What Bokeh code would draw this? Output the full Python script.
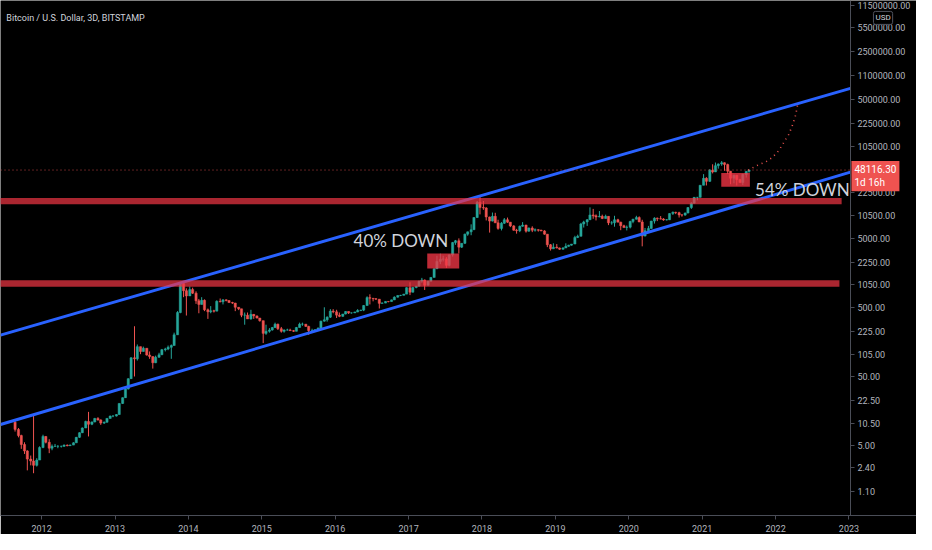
import pandas as pd
from bokeh.plotting import figure
from bokeh.models import (Range1d, FixedTicker, CustomJSTickFormatter, Label, ColumnDataSource)
from bokeh.embed import file_html
from bokeh.resources import INLINE

# ---------------- data (semi-monthly candles, BTC/USD) ----------------
first_date = "2011-08-15"
first_open = 10.9
highs = [
    # 2011 (Aug H2 .. Dec)
    11.6, 9.0, 7.2, 5.6, 4.3, 3.6, 14.3, 3.3, 4.9,
    # 2012
    7.2, 6.9, 6.2, 5.2, 5.3, 5.1, 5.0, 5.2, 5.2, 5.2, 5.6, 6.7, 7.8, 9.2, 11.5, 15.4, 11.2, 12.6, 12.9, 12.0, 11.2, 12.5, 13.6, 13.8,
    # 2013
    14.3, 20.5, 25.0, 33.5, 47.0, 95.0, 266, 145, 125, 135, 125, 115, 96, 100, 110, 125, 130, 140, 145, 215, 440, 1160, 1160, 940,
    # 2014
    1000, 960, 850, 660, 700, 650, 480, 520, 460, 630, 670, 650, 650, 630, 600, 580, 500, 475, 420, 420, 460, 400, 380, 340,
    # 2015
    320, 280, 250, 260, 300, 290, 260, 240, 245, 245, 235, 260, 300, 300, 285, 270, 245, 240, 255, 320, 500, 370, 470, 470,
    # 2016
    460, 420, 400, 440, 430, 420, 430, 470, 460, 540, 720, 770, 680, 680, 630, 590, 610, 610, 645, 720, 745, 755, 780, 975,
    # 2017
    1150, 985, 1020, 1210, 1330, 1260, 1210, 1360, 1830, 2780, 2980, 2780, 2650, 2900, 4400, 4700, 4950, 4200, 5800, 6200, 7900, 10000, 17200, 19700,
    # 2018
    17200, 14000, 10200, 11700, 11600, 9200, 8500, 9750, 9900, 8500, 7700, 6800, 7600, 8500, 7800, 7100, 7400, 6900, 6700, 6600, 6500, 5700, 4100, 4200,
    # 2019
    4100, 3650, 3700, 4200, 4000, 4100, 5400, 5600, 8300, 8900, 9400, 13900, 13200, 11000, 12300, 10900, 10900, 10300, 8800, 10500, 9500, 8600, 7800, 7600,
    # 2020
    8900, 9500, 10500, 10300, 9200, 7000, 7500, 8900, 10000, 9900, 10400, 9700, 9400, 11400, 12100, 12000, 12000, 11100, 11700, 14000, 16500, 19600, 19600, 29000,
    # 2021 (Jan .. Aug H2)
    42000, 38000, 49700, 58300, 61800, 60000, 64900, 62000, 59500, 45000, 41300, 41000, 36000, 42600, 46600, 48500,
]
lows = [
    8.0, 6.6, 4.5, 3.8, 2.2, 2.6, 2.0, 2.5, 3.1,
    4.6, 5.4, 3.9, 4.3, 4.8, 4.6, 4.7, 4.8, 4.9, 5.0, 5.1, 5.5, 6.5, 7.6, 9.0, 6.8, 9.9, 10.9, 11.5, 10.0, 10.3, 10.8, 12.4, 12.9,
    13.2, 14.0, 20.0, 24.5, 32.5, 46.0, 50, 85, 105, 115, 100, 90, 65, 78, 93, 102, 115, 120, 90, 140, 200, 410, 700, 380,
    730, 780, 560, 410, 550, 440, 340, 410, 420, 440, 590, 550, 610, 580, 560, 440, 455, 360, 280, 340, 330, 340, 345, 310,
    152, 200, 215, 230, 250, 235, 215, 215, 230, 230, 220, 225, 255, 270, 260, 200, 225, 225, 235, 250, 310, 310, 350, 410,
    350, 360, 365, 395, 400, 405, 415, 425, 440, 440, 530, 550, 610, 640, 480, 565, 575, 590, 605, 635, 690, 725, 745, 775,
    750, 820, 940, 1000, 1130, 890, 1040, 1180, 1350, 1800, 2100, 2300, 1850, 1950, 2700, 4000, 3000, 3600, 4100, 5400, 5500, 6600, 9800, 11000,
    12800, 9000, 6000, 8700, 8300, 6600, 6450, 8000, 8300, 7200, 6400, 5800, 6100, 7300, 6000, 6200, 6100, 6200, 6200, 6300, 5600, 3700, 3300, 3500,
    3550, 3380, 3400, 3600, 3750, 3900, 4100, 5000, 5300, 7100, 7500, 9200, 9500, 9000, 10000, 9400, 9600, 7700, 7800, 7300, 8500, 6500, 7100, 6450,
    6900, 8200, 9300, 8500, 3800, 5300, 6200, 6800, 8100, 8800, 9300, 8900, 9000, 9100, 10800, 11100, 9900, 10200, 10500, 11400, 13200, 15900, 17600, 19300,
    29000, 28800, 32300, 43000, 45000, 50400, 55500, 47000, 42000, 30000, 31000, 28800, 31500, 29300, 37500, 43900,
]
closes = [
    8.6, 7.0, 5.2, 4.2, 3.2, 3.0, 2.6, 3.1, 4.7,
    6.8, 5.6, 4.6, 4.9, 4.9, 4.9, 4.9, 5.1, 5.0, 5.1, 5.5, 6.6, 7.7, 9.0, 11.2, 10.2, 11.0, 12.4, 11.8, 10.6, 10.9, 12.4, 13.4, 13.4,
    14.1, 20.4, 24.7, 33.0, 46.5, 93.0, 90, 135, 115, 128, 102, 97, 79, 95, 103, 122, 125, 132, 140, 200, 420, 1100, 870, 730,
    900, 800, 620, 550, 630, 460, 430, 445, 440, 610, 600, 640, 625, 585, 575, 500, 475, 385, 385, 340, 395, 375, 350, 320,
    210, 225, 235, 255, 285, 245, 225, 235, 235, 230, 225, 255, 285, 285, 265, 230, 230, 237, 250, 315, 330, 360, 440, 430,
    385, 370, 400, 435, 415, 415, 428, 450, 455, 530, 690, 675, 665, 655, 570, 575, 608, 605, 640, 700, 740, 745, 775, 960,
    825, 965, 1010, 1190, 1240, 1040, 1190, 1350, 1800, 2300, 2480, 2500, 2020, 2860, 4300, 4580, 3700, 4200, 5700, 6150, 6600, 9900, 16500, 13800,
    13600, 10100, 8800, 10300, 8300, 6900, 8200, 9200, 8500, 7500, 6500, 6400, 7400, 7700, 6300, 7000, 6500, 6600, 6500, 6350, 5700, 4000, 3500, 3700,
    3600, 3450, 3600, 3800, 3950, 4100, 5100, 5300, 8000, 8550, 9200, 10800, 10500, 10100, 10300, 9600, 10300, 8300, 8300, 9200, 8500, 7550, 7100, 7200,
    8700, 9350, 9900, 8550, 5350, 6400, 6900, 8800, 9700, 9500, 9450, 9150, 9200, 11300, 11800, 11650, 10800, 10750, 11500, 13800, 16000, 19400, 19400, 29000,
    36500, 33000, 47900, 45200, 55600, 58800, 61300, 57700, 46400, 36700, 40300, 35000, 31800, 41500, 46000, 48116.3,
]

# chart time window (decimal years) and price axis position
x_start, x_axis_at, x_end = 2011.44, 2023.02, 2023.92
y_low, y_high = 0.49, 1.356e7

# channel lines (decimal year, price)
channel_x = [2011.44, 2023.02]
upper_y = [198, 729000]
lower_y = [10.1, 44800]
# horizontal resistance/support bands
band_left = [2011.0, 2011.0]
band_right = [2022.9, 2022.87]
band_bottom = [15400, 987]
band_top = [19000, 1234]
# drawdown boxes
box_left = [2017.254, 2021.26]
box_right = [2017.69, 2021.65]
box_bottom = [1814, 27600]
box_top = [3000, 43600]
# projected path (dotted)
proj_x = [2021.626, 2021.689, 2021.777, 2021.866, 2021.956, 2022.044, 2022.111, 2022.178, 2022.223, 2022.267, 2022.290, 2022.303]
proj_y = [47900, 52000, 57900, 63100, 73200, 91600, 120000, 156500, 204000, 281000, 368000, 441000]
last_price = 48116.3

x_ticks = [2012, 2013, 2014, 2015, 2016, 2017, 2018, 2019, 2020, 2021, 2022, 2023]
y_ticks = [1.1, 2.4, 5.0, 10.5, 22.5, 50.0, 105.0, 225.0, 500.0, 1050.0, 2250.0, 5000.0, 10500.0,
           22500.0, 105000.0, 225000.0, 500000.0, 1100000.0, 2500000.0, 5500000.0, 11500000.0]

# ---------------- build candles ----------------
n = len(closes)
assert len(highs) == n and len(lows) == n
dates = pd.date_range(first_date, periods=n, freq="SMS") + pd.Timedelta(days=7)
t = [d.year + (d.dayofyear - 1) / (366 if d.is_leap_year else 365) for d in dates]
opens = [first_open] + closes[:-1]
up_c, dn_c = "#26a69a", "#ef5350"
colors = [up_c if c >= o else dn_c for o, c in zip(opens, closes)]
src = ColumnDataSource(dict(
    t=t,
    hi=[max(h, o, c) for h, o, c in zip(highs, opens, closes)],
    lo=[min(l, o, c) for l, o, c in zip(lows, opens, closes)],
    top=[max(o, c) for o, c in zip(opens, closes)],
    bot=[min(o, c) for o, c in zip(opens, closes)],
    col=colors,
))

p = figure(width=916, height=534, y_axis_type="log", y_axis_location="right",
           x_range=Range1d(x_start, x_end), y_range=Range1d(y_low, y_high),
           output_backend="svg", toolbar_location=None,
           background_fill_color="#000000", border_fill_color="#000000",
           min_border_left=0, min_border_top=0, min_border_right=0, min_border_bottom=18)
p.outline_line_color = None
p.grid.visible = False

p.segment(x0="t", y0="hi", x1="t", y1="lo", color="col", line_width=1, source=src)
p.vbar(x="t", top="top", bottom="bot", width=0.03, fill_color="col", line_color="col", line_width=0.5, source=src)

p.line(channel_x, upper_y, line_color="#2962ff", line_width=3)
p.line(channel_x, lower_y, line_color="#2962ff", line_width=3)

p.quad(left=band_left, right=band_right, bottom=band_bottom, top=band_top,
       fill_color="#f23645", fill_alpha=0.7, line_color=None)
p.quad(left=box_left, right=box_right, bottom=box_bottom, top=box_top,
       fill_color="#f23645", fill_alpha=0.78, line_color=None)

# last-price dotted line across the chart area
p.line([x_start, x_axis_at], [last_price, last_price], line_color="#ef5350",
       line_dash="1 3", line_width=1, line_alpha=0.8)
p.line(proj_x, proj_y, line_color="#ef5350", line_dash="1 4", line_width=1.6)

p.add_layout(Label(x=2016.25, y=4600, text="40% DOWN", text_baseline="middle",
                   text_font="Lato", text_font_size="17px", text_color="#d1d4dc"))
p.add_layout(Label(x=2021.72, y=25600, text="54% DOWN", text_baseline="middle",
                   text_font="Lato", text_font_size="17px", text_color="#d1d4dc"))
p.add_layout(Label(x=2011.52, y=7.6e6, text="Bitcoin / U.S. Dollar, 3D, BITSTAMP", text_baseline="middle",
                   text_font="Roboto", text_font_size="9px", text_color="#d1d4dc"))

# price label on the axis
p.add_layout(Label(x=x_axis_at, y=last_price, x_offset=1, y_offset=9, text="48116.30\n1d 16h",
                   text_baseline="top", text_font="Roboto", text_font_size="10px", text_color="#ffffff",
                   background_fill_color="#ef5350", padding=3))
p.add_layout(Label(x=x_axis_at, y=7.6e6, x_offset=23, text="USD", text_baseline="middle",
                   text_font="Roboto", text_font_size="8px", text_color="#d1d4dc",
                   border_line_color="#50535e", background_fill_color="#000000", padding=2, border_radius=2))

# axes styling
for ax in (p.xaxis[0], p.yaxis[0]):
    ax.axis_line_color = "#4a4d57"
    ax.major_tick_line_color = "#4a4d57"
    ax.major_tick_out = 4
    ax.major_tick_in = 0
    ax.minor_tick_out = 0
    ax.minor_tick_in = 0
    ax.major_label_text_color = "#b2b5be"
    ax.major_label_text_font = "Roboto"
    ax.major_label_text_font_size = "9px"

p.yaxis[0].fixed_location = x_axis_at
p.yaxis[0].major_label_standoff = 3
p.xaxis[0].ticker = FixedTicker(ticks=x_ticks)
p.xaxis[0].formatter = CustomJSTickFormatter(code="return tick.toFixed(0);")
p.yaxis[0].ticker = FixedTicker(ticks=y_ticks)
p.yaxis[0].formatter = CustomJSTickFormatter(code="return tick.toFixed(2);")

open("out.html", "w").write(file_html(p, INLINE))
